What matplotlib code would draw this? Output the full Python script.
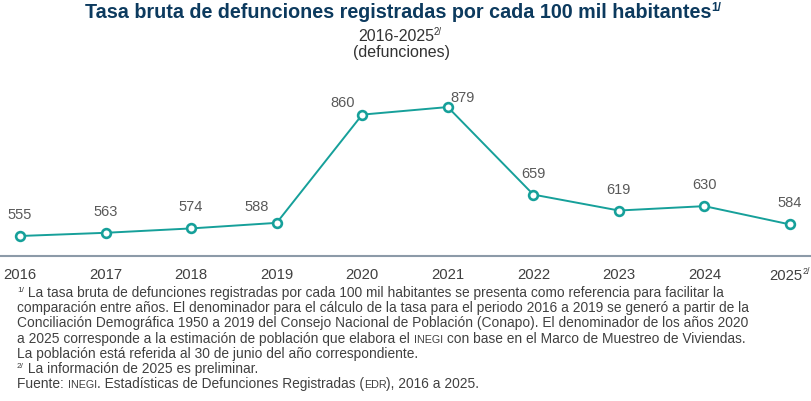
import matplotlib
matplotlib.use('Agg')
import matplotlib.pyplot as plt

plt.rcParams['font.family'] = ['Liberation Sans', 'DejaVu Sans']

# data
years = [2016, 2017, 2018, 2019, 2020, 2021, 2022, 2023, 2024, 2025]
year_labels = ['2016', '2017', '2018', '2019', '2020', '2021', '2022', '2023', '2024', '2025']
tasa = [555, 563, 574, 588, 860, 879, 659, 619, 630, 584]

title = 'Tasa bruta de defunciones registradas por cada 100 mil habitantes'
subtitle = '2016-2025'
unidad = '(defunciones)'

notas = [
    [('1/', 'sup'), (' La tasa bruta de defunciones registradas por cada 100 mil habitantes se presenta como referencia para facilitar la', 'n')],
    [('comparación entre años. El denominador para el cálculo de la tasa para el periodo 2016 a 2019 se generó a partir de la', 'n')],
    [('Conciliación Demográfica 1950 a 2019 del Consejo Nacional de Población (Conapo). El denominador de los años 2020', 'n')],
    [('a 2025 corresponde a la estimación de población que elabora el ', 'n'), ('INEGI', 'sc'), (' con base en el Marco de Muestreo de Viviendas.', 'n')],
    [('La población está referida al 30 de junio del año correspondiente.', 'n')],
    [('2/', 'sup'), (' La información de 2025 es preliminar.', 'n')],
    [('Fuente: ', 'n'), ('INEGI', 'sc'), ('. Estadísticas de Defunciones Registradas (', 'n'), ('EDR', 'sc'), ('), 2016 a 2025.', 'n')],
]

# style
TEAL = '#16a09a'
NAVY = '#0c3a5e'
GRAY = '#595959'
DARK = '#404040'
W, H = 812, 401

# offsets (px) of the value labels from their points
lab_off = {2019: (-20, 16), 2020: (-20, 12), 2021: (15, 9)}

fig = plt.figure(figsize=(W / 100, H / 100), dpi=100)
renderer = fig.canvas.get_renderer()

ax = fig.add_axes([0, (H - 256) / H, 1, 176 / H])
ax.plot(years, tasa, color=TEAL, lw=1.4, marker='o', ms=6.3, mew=1.9,
        mfc='white', mec=TEAL, zorder=3, clip_on=False)
ax.set_xlim(2015.766, 2025.257)
ax.set_ylim(504.7, 947)
for s in ['top', 'left', 'right']:
    ax.spines[s].set_visible(False)
ax.spines['bottom'].set_color('#8c9aa8')
ax.spines['bottom'].set_linewidth(1.5)
ax.set_xticks([])
ax.set_yticks([])
ax.patch.set_alpha(0)

for yr, v in zip(years, tasa):
    dx, dy = lab_off.get(yr, (0, 21))
    ax.annotate(str(v), (yr, v), xytext=(dx * 0.72, dy * 0.72), textcoords='offset points',
                ha='center', va='center', fontsize=10.5, color=GRAY)


def pieces(x, y, parts, size, color, ha='left', weight='normal'):
    # draw text parts side by side, x/y in px from top-left, y = baseline
    objs = []
    for txt, kind in parts:
        fs = size
        dy = 0
        if kind == 'sup':
            fs = size * 0.6
            dy = -size * 0.38
        elif kind == 'sc':
            fs = size * 0.78
        t = fig.text(0, 0, txt, fontsize=fs, color=color, weight=weight, va='baseline', ha='left')
        objs.append((t, dy))
    widths = [t.get_window_extent(renderer).width for t, _ in objs]
    total = sum(widths)
    if ha == 'center':
        x = x - total / 2
    cx = x
    for (t, dy), w in zip(objs, widths):
        t.set_position((cx / W, 1 - (y + dy * 100 / 72) / H))
        cx += w


# titles
pieces(403, 18, [(title, 'n'), ('1/', 'sup')], 14.2, NAVY, ha='center', weight='bold')
pieces(400, 41, [(subtitle, 'n'), ('2/', 'sup')], 11.5, '#333333', ha='center')
pieces(402, 57.5, [(unidad, 'n')], 11.5, '#333333', ha='center')

# x tick labels
for yr, lab in zip(years, year_labels):
    px = ax.transData.transform((yr, 0))[0]
    if yr == 2025:
        pieces(px, 280, [(lab, 'n'), ('2/', 'sup')], 10.7, DARK, ha='center')
    else:
        pieces(px, 279, [(lab, 'n')], 10.7, DARK, ha='center')

# footnotes
for i, line in enumerate(notas):
    pieces(17, 297 + i * 15.2, line, 9.9, DARK)

fig.savefig('out.png', dpi=100)
